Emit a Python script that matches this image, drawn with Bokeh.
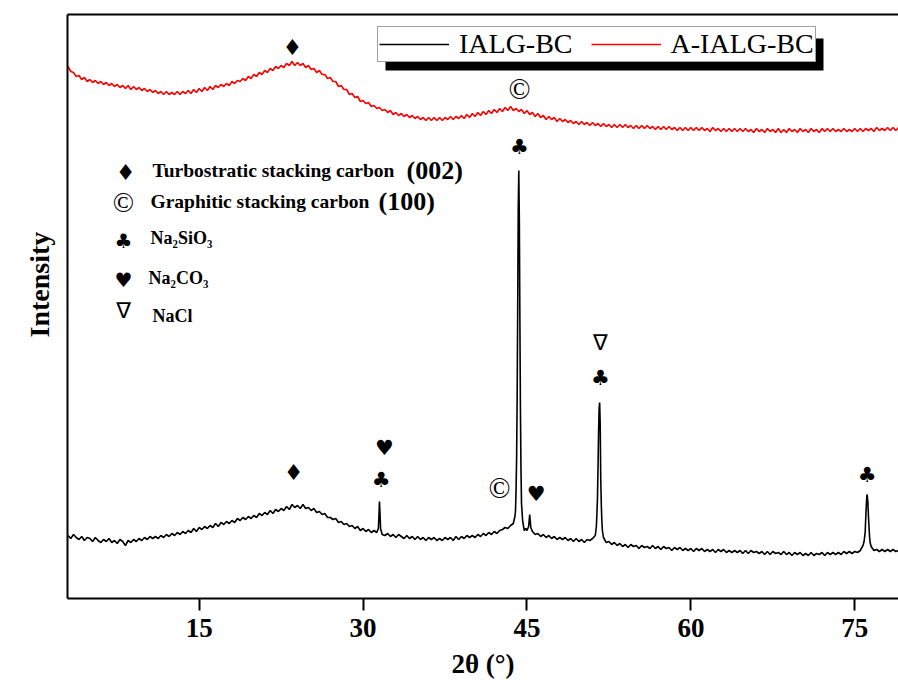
import numpy as np
from bokeh.plotting import figure
from bokeh.models import (Range1d, LinearAxis, Legend, LegendItem, Label,
                          BoxAnnotation, ColumnDataSource, FixedTicker, Title)
from bokeh.embed import file_html
from bokeh.resources import INLINE

# ---------------- data ----------------
# 2-theta sampling grid: start 3 deg, 0.25 deg step (one row = one degree)
grid_start = 3.0
grid_step = 0.25

ialg_bc_grid = [
    63, 60, 64, 61,   # 3
    59, 62, 58, 61,   # 4
    60, 57, 61, 58,   # 5
    56, 59, 57, 60,   # 6
    56, 58, 55, 59,   # 7
    57, 53, 58, 56,   # 8
    59, 57, 60, 58,   # 9
    61, 59, 62, 60,   # 10
    62, 60, 63, 61,   # 11
    64, 62, 65, 63,   # 12
    66, 64, 67, 65,   # 13
    68, 66, 70, 67,   # 14
    71, 69, 72, 70,   # 15
    73, 71, 75, 72,   # 16
    76, 74, 77, 75,   # 17
    78, 76, 80, 78,   # 18
    81, 79, 82, 80,   # 19
    83, 81, 85, 83,   # 20
    86, 84, 88, 85,   # 21
    89, 87, 90, 88,   # 22
    92, 89, 94, 91,   # 23
    93, 90, 94, 90,   # 24
    91, 88, 90, 86,   # 25
    87, 84, 85, 81,   # 26
    81, 79, 80, 76,   # 27
    77, 74, 75, 72,   # 28
    73, 70, 72, 68,   # 29
    70, 67, 69, 66,   # 30
    68, 66, 97, 64,   # 31
    63, 65, 62, 64,   # 32
    61, 64, 62, 60,   # 33
    63, 60, 62, 59,   # 34
    62, 59, 61, 58,   # 35
    61, 59, 61, 58,   # 36
    60, 58, 61, 59,   # 37
    61, 58, 62, 59,   # 38
    62, 60, 63, 61,   # 39
    63, 61, 64, 62,   # 40
    65, 63, 66, 64,   # 41
    67, 65, 68, 69,   # 42
    71, 70, 73, 75,   # 43
    108, 428, 95, 68, # 44
    68, 84, 67, 64,   # 45
    65, 62, 64, 61,   # 46
    63, 60, 62, 59,   # 47
    61, 59, 61, 58,   # 48
    60, 57, 60, 57,   # 49
    59, 56, 59, 58,   # 50
    60, 63, 130, 120, # 51
    61, 56, 57, 54,   # 52
    56, 53, 55, 52,   # 53
    54, 51, 54, 52,   # 54
    53, 50, 53, 51,   # 55
    52, 50, 53, 50,   # 56
    52, 49, 52, 50,   # 57
    51, 48, 51, 49,   # 58
    51, 48, 50, 48,   # 59
    50, 47, 50, 48,   # 60
    50, 47, 49, 47,   # 61
    49, 46, 49, 47,   # 62
    49, 46, 48, 46,   # 63
    48, 46, 48, 45,   # 64
    48, 45, 48, 46,   # 65
    47, 45, 47, 44,   # 66
    47, 44, 47, 45,   # 67
    46, 44, 47, 44,   # 68
    46, 43, 46, 44,   # 69
    46, 43, 45, 43,   # 70
    46, 43, 45, 44,   # 71
    46, 43, 46, 44,   # 72
    46, 44, 46, 44,   # 73
    47, 45, 47, 45,   # 74
    47, 46, 48, 53,   # 75
    80, 82, 52, 48,   # 76
    49, 47, 49, 47,   # 77
    49, 47, 49, 47,   # 78
    48,               # 79
]

# extra points read on the sharp reflections of IALG-BC
ialg_bc_peak_x = [31.40, 31.45, 31.55, 31.60,
                  43.85, 43.90, 43.95, 44.05, 44.10, 44.15, 44.20,
                  44.30, 44.35, 44.40, 44.45, 44.60, 44.90,
                  45.15, 45.35,
                  51.35, 51.40, 51.45, 51.55, 51.60, 51.65, 51.70, 51.80, 51.85, 51.90,
                  75.85, 75.95, 76.05, 76.10, 76.13, 76.20, 76.35, 76.40]
ialg_bc_peak_y = [70, 82, 85, 70,
                  80, 82, 88, 140, 200, 290, 390,
                  380, 280, 190, 130, 78, 70,
                  72, 71,
                  72, 85, 100, 165, 190, 196, 175, 95, 78, 68,
                  57, 66, 92, 102, 104, 96, 62, 56]

a_ialg_bc_grid = [
    532, 527, 526, 522,   # 3
    523, 519, 521, 517,   # 4
    519, 516, 518, 515,   # 5
    517, 514, 516, 513,   # 6
    515, 512, 514, 511,   # 7
    513, 510, 513, 509,   # 8
    512, 509, 511, 508,   # 9
    510, 507, 509, 506,   # 10
    508, 505, 507, 504,   # 11
    507, 504, 506, 504,   # 12
    507, 504, 507, 505,   # 13
    508, 505, 509, 506,   # 14
    510, 507, 511, 508,   # 15
    512, 509, 513, 511,   # 16
    514, 512, 515, 513,   # 17
    517, 515, 518, 517,   # 18
    520, 518, 522, 520,   # 19
    524, 522, 526, 524,   # 20
    528, 526, 530, 528,   # 21
    532, 530, 533, 531,   # 22
    535, 533, 537, 533,   # 23
    536, 533, 535, 531,   # 24
    533, 529, 530, 526,   # 25
    528, 524, 524, 520,   # 26
    521, 517, 517, 512,   # 27
    513, 509, 509, 504,   # 28
    505, 501, 502, 497,   # 29
    498, 495, 496, 492,   # 30
    493, 490, 491, 488,   # 31
    489, 486, 488, 484,   # 32
    486, 483, 485, 482,   # 33
    484, 481, 483, 480,   # 34
    482, 479, 481, 478,   # 35
    481, 478, 481, 478,   # 36
    481, 478, 481, 479,   # 37
    482, 479, 482, 480,   # 38
    483, 480, 484, 481,   # 39
    485, 482, 486, 483,   # 40
    487, 484, 488, 485,   # 41
    489, 486, 490, 487,   # 42
    491, 488, 492, 488,   # 43
    490, 487, 489, 485,   # 44
    488, 484, 486, 482,   # 45
    485, 481, 483, 479,   # 46
    482, 479, 481, 477,   # 47
    480, 477, 479, 476,   # 48
    478, 475, 477, 474,   # 49
    477, 474, 476, 473,   # 50
    476, 473, 475, 472,   # 51
    475, 472, 474, 471,   # 52
    474, 471, 474, 471,   # 53
    474, 471, 473, 470,   # 54
    473, 470, 473, 470,   # 55
    473, 470, 472, 469,   # 56
    472, 469, 472, 469,   # 57
    472, 469, 471, 468,   # 58
    471, 468, 471, 468,   # 59
    471, 468, 471, 468,   # 60
    471, 468, 470, 467,   # 61
    471, 468, 470, 467,   # 62
    470, 467, 470, 467,   # 63
    470, 467, 470, 467,   # 64
    470, 467, 469, 466,   # 65
    470, 467, 469, 466,   # 66
    470, 467, 469, 466,   # 67
    470, 466, 469, 466,   # 68
    470, 467, 469, 466,   # 69
    470, 467, 469, 466,   # 70
    470, 467, 469, 466,   # 71
    470, 467, 470, 467,   # 72
    470, 467, 469, 467,   # 73
    470, 467, 469, 467,   # 74
    470, 467, 470, 467,   # 75
    470, 468, 470, 467,   # 76
    471, 468, 470, 468,   # 77
    471, 468, 471, 468,   # 78
    471,                  # 79
]

series_names = ["IALG-BC", "A-IALG-BC"]
x_ticks = [15, 30, 45, 60, 75]

# phase marks placed over the reflections (2-theta, height, symbol)
mark_x = [23.52, 44.31, 23.65, 31.65, 31.95, 42.48, 44.31, 45.84, 51.72, 51.72, 76.13]
mark_y = [551, 510, 126, 119, 151, 111, 452, 105, 221, 256, 124]
mark_text = ["♦", "©", "♦", "♣", "♥", "©", "♣", "♥", "♣", "∇", "♣"]

key_symbols = ["♦", "©", "♣", "♥", "∇"]
key_names = ["Turbostratic stacking carbon", "Graphitic stacking carbon",
             "Na₂SiO₃", "Na₂CO₃", "NaCl"]
key_planes = ["(002)", "(100)", "", "", ""]

# ---------------- build series ----------------
def build(grid, px=(), py=()):
    gx = grid_start + grid_step * np.arange(len(grid))
    x = np.concatenate([gx, np.asarray(px, dtype=float)])
    y = np.concatenate([np.asarray(grid, dtype=float), np.asarray(py, dtype=float)])
    order = np.argsort(x, kind="stable")
    return x[order], y[order]

bx, by = build(ialg_bc_grid, ialg_bc_peak_x, ialg_bc_peak_y)
rx, ry = build(a_ialg_bc_grid)

SERIF = "Liberation Serif"

p = figure(width=898, height=682, output_backend="svg", toolbar_location=None,
           x_range=Range1d(2.95, 79.0), y_range=Range1d(0, 584),
           x_axis_location=None, y_axis_location=None,
           min_border_left=67, min_border_right=0, min_border_top=14,
           min_border_bottom=84)
p.outline_line_color = None
p.background_fill_color = "white"
p.border_fill_color = "white"
p.xgrid.grid_line_color = None
p.ygrid.grid_line_color = None

xb = LinearAxis(ticker=FixedTicker(ticks=x_ticks), axis_label="2θ (°)")
xb.axis_line_width = 2
xb.axis_line_color = "black"
xb.major_tick_line_width = 2
xb.major_tick_out = 12
xb.major_tick_in = 0
xb.minor_tick_line_color = None
xb.major_label_standoff = 8
xb.major_label_text_font = SERIF
xb.major_label_text_font_style = "bold"
xb.major_label_text_font_size = "27px"
xb.major_label_text_color = "black"
xb.axis_label_standoff = 9
xb.axis_label_text_font = SERIF
xb.axis_label_text_font_style = "bold"
xb.axis_label_text_font_size = "27px"
xb.axis_label_text_color = "black"
p.add_layout(xb, "below")

yl = LinearAxis(ticker=FixedTicker(ticks=[]))
ya = LinearAxis(ticker=FixedTicker(ticks=[]))
for ax in (yl, ya):
    ax.axis_line_width = 2
    ax.axis_line_color = "black"
    ax.major_tick_line_color = None
    ax.minor_tick_line_color = None
    ax.major_tick_out = 0
    ax.major_tick_in = 0
    ax.major_label_standoff = 0
    ax.major_label_text_font_size = "0px"
p.add_layout(yl, "left")
p.add_layout(ya, "above")

# y-axis title, shifted along the axis as in the original
ytitle = Title(text="Intensity", align="left", offset=261, standoff=25,
               vertical_align="bottom",
               text_font=SERIF, text_font_style="bold",
               text_font_size="28px", text_color="black")
p.add_layout(ytitle, "left")

rb = p.line(bx, by, line_color="black", line_width=1.6)
rr = p.line(rx, ry, line_color="#ff0000", line_width=1.6)

# phase marks
mark_style = {"♦": ("DejaVu Sans", "22px"), "©": (SERIF, "29px"),
              "♣": ("DejaVu Sans", "21px"), "♥": ("DejaVu Sans", "21px"),
              "∇": ("DejaVu Sans", "22px")}
msrc = ColumnDataSource(dict(x=mark_x, y=mark_y, text=mark_text,
                             font=[mark_style[t][0] for t in mark_text],
                             size=[mark_style[t][1] for t in mark_text]))
p.text(x="x", y="y", text="text", source=msrc, text_font="font",
       text_font_size="size", text_align="center", text_baseline="middle",
       text_color="black")

# legend shadow + legend
shadow = BoxAnnotation(left=318, right=756, bottom=528, top=560,
                       left_units="screen", right_units="screen",
                       top_units="screen", bottom_units="screen",
                       fill_color="black", fill_alpha=1, line_color=None)
p.add_layout(shadow)
legend = Legend(items=[LegendItem(label=series_names[0], renderers=[rb]),
                       LegendItem(label=series_names[1], renderers=[rr])],
                orientation="horizontal", location=(310, 536),
                label_text_font=SERIF, label_text_font_size="28px",
                label_text_color="black", glyph_width=70, glyph_height=20,
                label_height=20, label_standoff=10, spacing=18, padding=1,
                margin=0, border_line_color="#404040", border_line_width=1,
                background_fill_color="white", background_fill_alpha=1)
p.add_layout(legend)

# key of phase symbols
sym_pos = [(58, 426), (56, 396), (56, 358), (56, 319), (56, 288)]
sym_size = ["22px", "28px", "20px", "20px", "22px"]
name_pos = [(85, 428), (83, 397), (83, 361), (81, 321), (85, 283)]
name_size = ["19.5px", "19.5px", "18px", "18px", "18px"]
plane_x = [339, 311]
for i, s in enumerate(key_symbols):
    font = SERIF if s == "©" else "DejaVu Sans"
    p.add_layout(Label(x=sym_pos[i][0], y=sym_pos[i][1], x_units="screen",
                       y_units="screen", text=s, text_font=font,
                       text_font_size=sym_size[i], text_align="center",
                       text_baseline="middle", text_color="black"))
    p.add_layout(Label(x=name_pos[i][0], y=name_pos[i][1], x_units="screen",
                       y_units="screen", text=key_names[i], text_font=SERIF,
                       text_font_style="bold", text_font_size=name_size[i],
                       text_align="left", text_baseline="alphabetic",
                       text_color="black"))
    if key_planes[i]:
        p.add_layout(Label(x=plane_x[i], y=name_pos[i][1], x_units="screen",
                           y_units="screen", text=key_planes[i], text_font=SERIF,
                           text_font_style="bold", text_font_size="26px",
                           text_align="left", text_baseline="alphabetic",
                           text_color="black"))

open("out.html", "w").write(file_html(p, INLINE))
